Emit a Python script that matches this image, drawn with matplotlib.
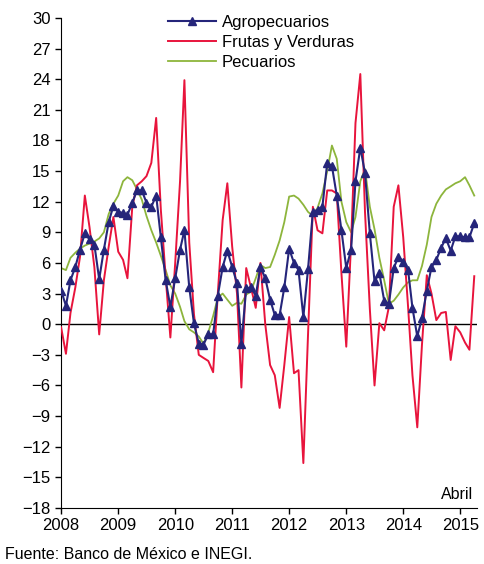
import pandas as pd
import matplotlib.pyplot as plt
import matplotlib.dates as mdates

plt.rcParams['font.family'] = ['Liberation Sans', 'DejaVu Sans']

# monthly series, Jan 2008 - Apr 2015 (annual % change)
months = pd.date_range('2008-01-01', periods=88, freq='MS')

agropecuarios = [
    3.3, 1.8, 4.3, 5.6, 7.3, 8.9, 8.3, 7.8, 4.4, 7.3, 10.0, 11.6,
    11.0, 10.9, 10.7, 11.9, 13.1, 13.1, 11.9, 11.5, 12.6, 8.5, 4.3, 1.7,
    4.5, 7.3, 9.2, 3.6, 0.1, -1.9, -2.0, -1.0, -1.0, 2.8, 5.6, 7.2,
    5.6, 4.0, -1.9, 3.5, 3.6, 2.8, 5.6, 4.5, 2.4, 0.9, 0.9, 3.6,
    7.4, 6.0, 5.3, 0.7, 5.4, 11.0, 11.2, 11.5, 15.8, 15.5, 12.6, 9.2,
    5.5, 7.3, 14.0, 17.3, 14.8, 8.9, 4.2, 5.0, 2.3, 2.0, 5.5, 6.6,
    6.1, 5.3, 1.6, -1.2, 0.6, 3.3, 5.6, 6.3, 7.5, 8.4, 7.2, 8.6,
    8.6, 8.5, 8.5, 9.9,
]

frutas_verduras = [
    -0.3, -2.9, 1.1, 3.6, 6.6, 12.6, 9.5, 5.6, -1.0, 4.3, 7.6, 10.5,
    7.1, 6.3, 4.5, 11.5, 13.6, 14.0, 14.5, 15.8, 20.2, 11.2, 4.6, -1.3,
    6.0, 14.0, 23.9, 8.0, 1.0, -3.0, -3.3, -3.6, -4.7, 3.0, 10.2, 13.8,
    7.6, 3.0, -6.2, 5.5, 3.6, 1.6, 6.0, 0.0, -4.0, -5.0, -8.2, -4.0,
    0.7, -4.8, -4.5, -13.6, -1.0, 11.5, 9.2, 8.9, 13.1, 13.1, 12.8, 5.0,
    -2.2, 8.0, 19.7, 24.5, 11.0, 1.5, -6.0, 0.1, -0.6, 1.7, 11.5, 13.6,
    8.5, 1.7, -5.0, -10.1, -2.0, 4.8, 3.0, 0.4, 1.1, 1.2, -3.5, -0.2,
    -0.8, -1.8, -2.5, 4.7,
]

pecuarios = [
    5.5, 5.3, 6.5, 7.0, 7.4, 7.7, 7.9, 8.1, 8.4, 9.0, 10.8, 11.8,
    12.6, 14.0, 14.4, 14.1, 13.2, 12.2, 10.6, 9.2, 8.0, 6.7, 5.3, 3.8,
    3.0, 1.7, 0.3, -0.5, -0.8, -1.2, -1.9, -0.8, 0.8, 2.6, 3.0, 2.4,
    1.8, 2.1, 2.0, 2.9, 3.2, 4.5, 5.8, 5.5, 5.6, 6.8, 8.2, 10.0,
    12.5, 12.6, 12.3, 11.7, 11.0, 10.6, 11.4, 12.8, 15.0, 17.5, 16.2, 12.0,
    10.0, 9.0, 10.5, 14.0, 15.2, 11.5, 9.3, 6.5, 4.3, 2.0, 2.3, 2.9,
    3.6, 4.1, 4.3, 4.3, 5.7, 7.8, 10.5, 11.8, 12.6, 13.2, 13.5, 13.8,
    14.0, 14.4, 13.6, 12.6,
]

years = list(range(2008, 2016))

fig = plt.figure(figsize=(4.85, 5.64), dpi=100)
ax = fig.add_axes([0.126, 0.0993, 0.857, 0.869])

ax.axhline(0, color='black', linewidth=1.0, zorder=1)
ax.plot(months, agropecuarios, color='#25257a', linewidth=1.5, marker='^',
        markersize=6, label='Agropecuarios', zorder=4)
ax.plot(months, frutas_verduras, color='#e8143c', linewidth=1.4,
        label='Frutas y Verduras', zorder=3)
ax.plot(months, pecuarios, color='#8db53c', linewidth=1.3,
        label='Pecuarios', zorder=2)

ax.set_ylim(-18, 30)
ax.set_yticks(range(-18, 31, 3))
ax.set_xlim(pd.Timestamp('2008-01-01'), pd.Timestamp('2015-04-17'))
ax.set_xticks([pd.Timestamp(f'{y}-01-01') for y in years])
ax.xaxis.set_major_formatter(mdates.DateFormatter('%Y'))

for s in ['top', 'right']:
    ax.spines[s].set_visible(False)
ax.tick_params(axis='both', labelsize=12, direction='out', length=4, width=1)
ax.tick_params(axis='x', pad=3)

ax.text(0.99, 0.012, 'Abril', transform=ax.transAxes, ha='right', va='bottom',
        fontsize=11.5)

leg = ax.legend(loc='upper left', bbox_to_anchor=(0.24, 1.02), frameon=False,
                fontsize=12, handlelength=2.9, handletextpad=0.35,
                labelspacing=0.3, borderaxespad=0)

fig.text(0.01, 0.004, 'Fuente: Banco de México e INEGI.', fontsize=11.5,
         ha='left', va='bottom')

fig.savefig('out.png', dpi=100)
